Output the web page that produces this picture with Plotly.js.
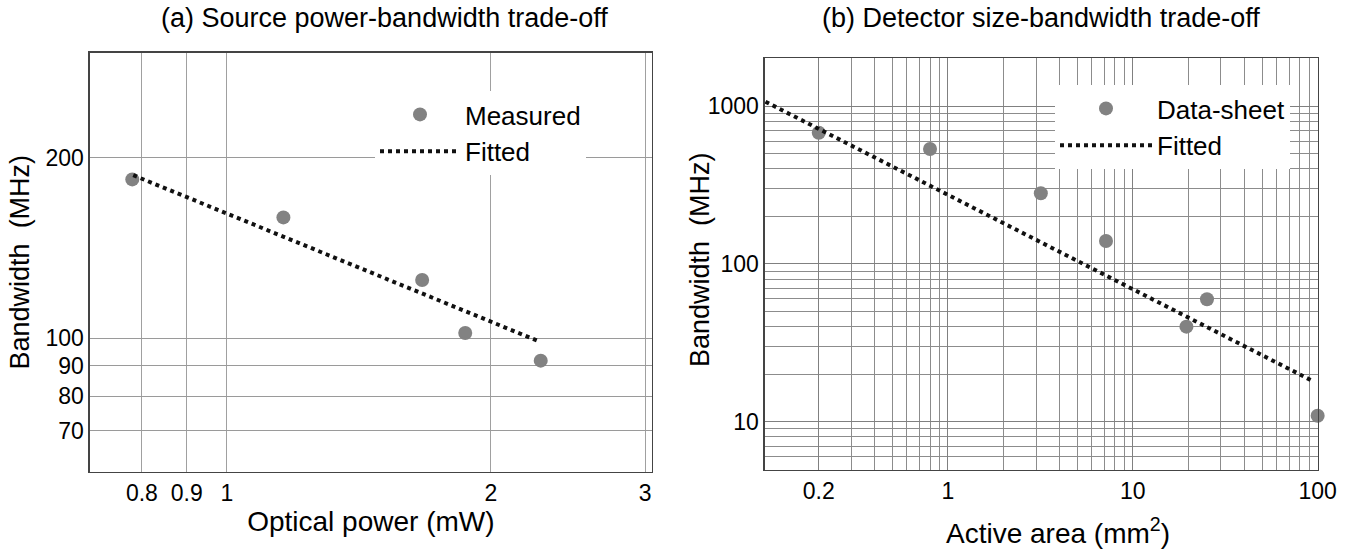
<!DOCTYPE html>
<html>
<head>
<meta charset="utf-8">
<script src="https://cdn.plot.ly/plotly-3.0.1.min.js"></script>
<style>
  html, body { margin: 0; padding: 0; background: #ffffff; }
  #chart { width: 1357px; height: 550px; }
</style>
</head>
<body>
<div id="chart"></div>
<script>
// ---------- Panel (a): source power vs bandwidth ----------
const powerMeasured = [0.78, 1.16, 1.67, 1.87, 2.28];      // mW
const bwMeasured    = [184, 159, 125, 102, 91.7];          // MHz
const powerFitted   = [0.782, 2.276];
const bwFitted      = [187, 98.6];
const powerTicks    = [0.8, 0.9, 1, 2, 3];
const powerTickText = ['0.8', '0.9', '1', '2', '3'];
const bwTicksA      = [70, 80, 90, 100, 200];
const bwTickTextA   = ['70', '80', '90', '100', '200'];

// ---------- Panel (b): detector area vs bandwidth ----------
const areaSheet     = [0.2, 0.8, 3.18, 7.16, 19.5, 25.2, 100];   // mm^2
const bwSheet       = [677, 534, 280, 139.5, 40, 59.6, 10.9];    // MHz
const areaFitted    = [0.103, 94.8];
const bwFittedB     = [1065, 18.0];
const areaLabelled  = [0.2, 1, 10, 100];
const areaLabelText = ['0.2', '1', '10', '100'];
const bwLabelledB   = [10, 100, 1000];
const bwLabelTextB  = ['10', '100', '1000'];

// minor grid positions (1..9 in each decade), excluding labelled ones
function minorGrid(decades, labelled) {
  const vals = [];
  decades.forEach(d => {
    for (let m = 1; m <= 9; m++) {
      const v = +(m * d).toPrecision(3);
      if (labelled.indexOf(v) < 0) vals.push(v);
    }
  });
  return vals;
}
const areaMinor = minorGrid([0.1, 1, 10, 100], areaLabelled);
const bwMinorB  = minorGrid([1, 10, 100, 1000], bwLabelledB);

const FONT = 'Liberation Sans, Arial, Helvetica, sans-serif';
const markerGray = '#828282';
const lineDark = '#111111';

const traces = [
  { x: powerMeasured, y: bwMeasured, type: 'scatter', mode: 'markers', name: 'Measured',
    marker: { size: 14, color: markerGray }, xaxis: 'x', yaxis: 'y', legend: 'legend', cliponaxis: false },
  { x: powerFitted, y: bwFitted, type: 'scatter', mode: 'lines', name: 'Fitted',
    line: { color: lineDark, width: 4, dash: '4px,4px' }, xaxis: 'x', yaxis: 'y', legend: 'legend' },
  { x: areaSheet, y: bwSheet, type: 'scatter', mode: 'markers', name: 'Data-sheet',
    marker: { size: 14, color: markerGray }, xaxis: 'x2', yaxis: 'y2', legend: 'legend2', cliponaxis: false },
  { x: areaFitted, y: bwFittedB, type: 'scatter', mode: 'lines', name: 'Fitted',
    line: { color: lineDark, width: 4, dash: '4px,4px' }, xaxis: 'x2', yaxis: 'y2', legend: 'legend2' }
];

const axisCommon = {
  type: 'log', showline: true, mirror: true, linecolor: '#444', linewidth: 1.5,
  ticks: '', zeroline: false, automargin: false,
  tickfont: { family: FONT, size: 23, color: '#000' },
  showgrid: true
};

const layout = {
  width: 1357, height: 550,
  margin: { l: 0, r: 0, t: 0, b: 0 },
  paper_bgcolor: '#ffffff', plot_bgcolor: '#ffffff',
  font: { family: FONT, color: '#000' },
  showlegend: true,
  xaxis: Object.assign({}, axisCommon, {
    domain: [0.0663, 0.4803],
    range: [Math.log10(0.698), Math.log10(3.052)],
    tickvals: powerTicks, ticktext: powerTickText,
    gridcolor: '#a0a0a0', gridwidth: 1,
    anchor: 'y',
    title: { text: 'Optical power (mW)', font: { family: FONT, size: 28 }, standoff: 5 }
  }),
  yaxis: Object.assign({}, axisCommon, {
    domain: [0.1424, 0.9042],
    range: [Math.log10(59.86), Math.log10(299.4)],
    tickvals: bwTicksA, ticktext: bwTickTextA,
    gridcolor: '#9a9a9a', gridwidth: 1,
    anchor: 'x',
    title: { text: 'Bandwidth  (MHz)', font: { family: FONT, size: 27 }, standoff: 8 }
  }),
  xaxis2: Object.assign({}, axisCommon, {
    domain: [0.5637, 0.9710],
    range: [-0.99, 2.0],
    tickvals: areaLabelled, ticktext: areaLabelText,
    gridcolor: '#808080', gridwidth: 1,
    minor: { tickvals: areaMinor, showgrid: true, gridcolor: '#8c8c8c', gridwidth: 1, ticks: '' },
    anchor: 'y2'
  }),
  yaxis2: Object.assign({}, axisCommon, {
    domain: [0.1455, 0.894],
    range: [Math.log10(4.94), Math.log10(2006)],
    tickvals: bwLabelledB, ticktext: bwLabelTextB,
    gridcolor: '#808080', gridwidth: 1,
    minor: { tickvals: bwMinorB, showgrid: true, gridcolor: '#8c8c8c', gridwidth: 1, ticks: '' },
    anchor: 'x2'
  }),
  legend: {
    x: 375 / 1357, y: 1 - 91 / 550, xanchor: 'left', yanchor: 'top',
    bgcolor: '#ffffff', borderwidth: 0, itemwidth: 80,
    font: { family: FONT, size: 26, color: '#000' }
  },
  legend2: {
    x: 1055 / 1357, y: 1 - 85 / 550, xanchor: 'left', yanchor: 'top',
    bgcolor: '#ffffff', borderwidth: 0, itemwidth: 92,
    font: { family: FONT, size: 26, color: '#000' }
  },
  annotations: [
    { text: '(a) Source power-bandwidth trade-off', xref: 'paper', yref: 'paper',
      x: 384 / 1357, y: 1 - 18 / 550, xanchor: 'center', yanchor: 'middle', showarrow: false,
      font: { family: FONT, size: 27, color: '#000' } },
    { text: '(b) Detector size-bandwidth trade-off', xref: 'paper', yref: 'paper',
      x: 1041 / 1357, y: 1 - 18 / 550, xanchor: 'center', yanchor: 'middle', showarrow: false,
      font: { family: FONT, size: 27, color: '#000' } },
    { text: 'Bandwidth  (MHz)', xref: 'paper', yref: 'paper',
      x: 700 / 1357, y: 1 - 260 / 550, xanchor: 'center', yanchor: 'middle', showarrow: false,
      textangle: -90, font: { family: FONT, size: 27, color: '#000' } },
    { text: 'Active area (mm<sup>2</sup>)', xref: 'paper', yref: 'paper',
      x: 1058 / 1357, y: 1 - 531 / 550, xanchor: 'center', yanchor: 'middle', showarrow: false,
      font: { family: FONT, size: 28, color: '#000' } }
  ]
};

Plotly.newPlot('chart', traces, layout, { displayModeBar: false, staticPlot: true });
</script>
</body>
</html>
